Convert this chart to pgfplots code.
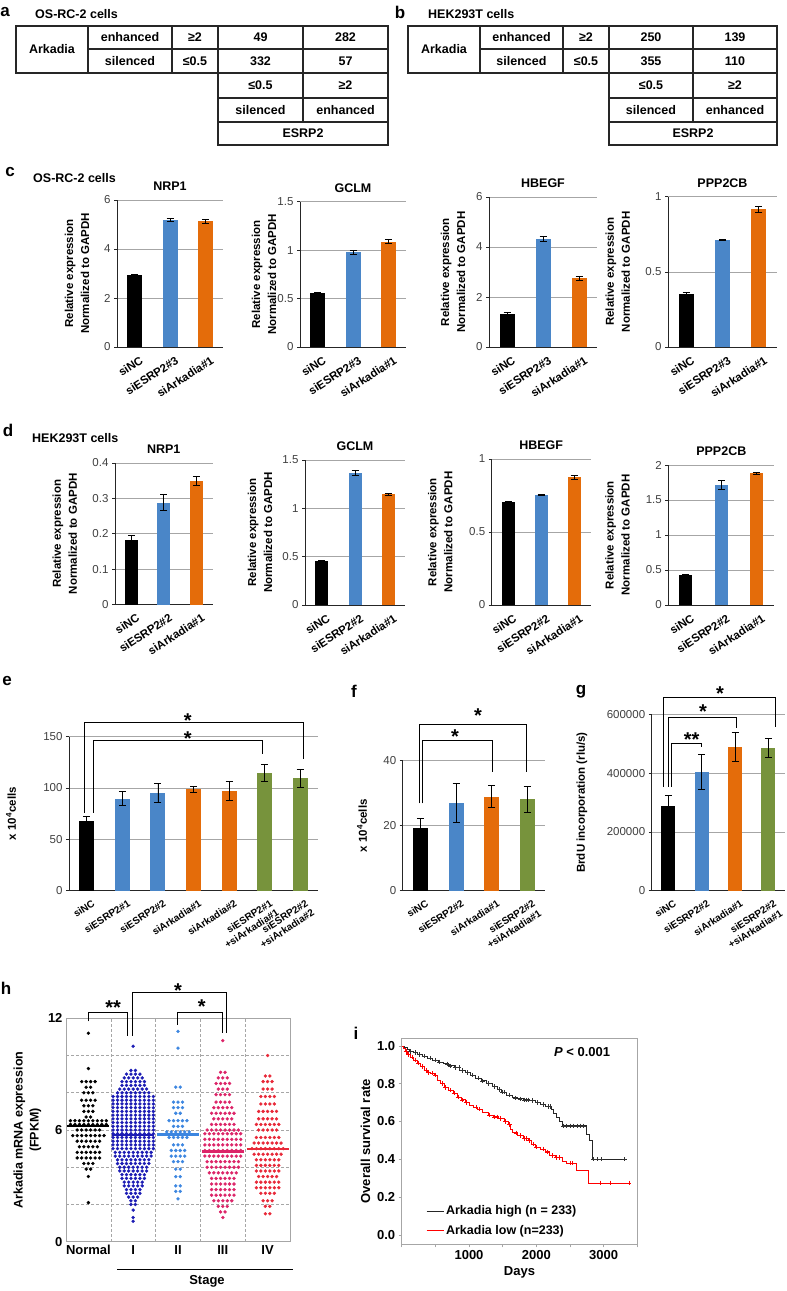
\documentclass[border=0pt]{standalone}
\usepackage{fontspec}
\setmainfont{Liberation Sans}
\usepackage{pgfplots}
\pgfplotsset{compat=1.18}
\definecolor{cblue}{HTML}{4A86C8}
\definecolor{corange}{HTML}{E46C0A}
\definecolor{cgreen}{HTML}{77933C}
\definecolor{gridc}{HTML}{A6A6A6}
\definecolor{tickc}{HTML}{404040}
\definecolor{sI}{HTML}{1C1CB4}
\definecolor{sII}{HTML}{3C86E0}
\definecolor{sIII}{HTML}{DC2468}
\definecolor{sIV}{HTML}{E82838}
\newcommand{\tf}{\bfseries\fontsize{12.5}{14}\selectfont}
\newcommand{\lf}{\bfseries\fontsize{17}{18}\selectfont}
\tikzset{star/.style={font=\bfseries\fontsize{20}{20}\selectfont, inner sep=0pt, yshift=-4pt}}
\pgfplotsset{
 barax/.style={
  scale only axis, clip=false, anchor=south west,
  axis x line*=bottom, axis y line*=left,
  axis line style={black!85, line width=0.8pt},
  ymin=0, ymajorgrids, grid style={gridc, line width=0.7pt},
  tick align=outside, major tick length=3pt,
  ytick style={black!85, line width=0.7pt},
  xtick style={draw=none},
  /pgf/number format/assume math mode=true,
  yticklabel style={font=\fontsize{11.5}{13}\selectfont, text=tickc},
  xticklabel style={xshift=5pt, yshift=-4pt, rotate=33, anchor=north east, font=\bfseries\fontsize{11.5}{12.5}\selectfont, inner sep=1pt, align=right},
  title style={font=\bfseries\fontsize{12.5}{14}\selectfont, at={(0.5,1)}, anchor=south, yshift=0pt},
  ylabel style={font=\bfseries\fontsize{11.5}{16}\selectfont, align=center, anchor=center},
  xmin=-0.5,
 },
 smalllab/.style={xticklabel style={font=\bfseries\fontsize{10}{11.5}\selectfont}},
 bb/.style={ybar, bar shift=0pt, draw=none, fill=#1,
   error bars/y dir=both, error bars/y explicit,
   error bars/error mark=-,
   error bars/error bar style={black, line width=0.8pt},
   error bars/error mark options={rotate=90, black, line width=0.8pt, mark size=3.5pt}},
}
\begin{document}
\begin{tikzpicture}
\path[use as bounding box] (0pt,0pt) rectangle (787pt,-1291pt);
\begin{scope}[x=1pt,y=-1pt]
% ---------- panel a
\node[font=\lf] at (5,12) {a};
\node[font=\tf, anchor=west, inner sep=0pt] at (35,14) {OS-RC-2 cells};
\draw[line width=1.1pt, black!85] (16,26) rectangle (388,73);
\foreach \xx in {88,172,218,303} \draw[line width=1.1pt, black!85] (\xx,26) -- (\xx,73);
\draw[line width=1.1pt, black!85] (88,49) -- (388,49);
\draw[line width=1.1pt, black!85] (218,73) rectangle (388,145);
\draw[line width=1.1pt, black!85] (218,98) -- (388,98) (218,122) -- (388,122) (303,73) -- (303,122);
\node[font=\tf] at (52,49) {Arkadia};
\node[font=\tf] at (130,37.5) {enhanced};
\node[font=\tf] at (130,61) {silenced};
\node[font=\tf] at (195,37.5) {≥2};
\node[font=\tf] at (195,61) {≤0.5};
\node[font=\tf] at (260.5,37.5) {49};
\node[font=\tf] at (345.5,37.5) {282};
\node[font=\tf] at (260.5,61) {332};
\node[font=\tf] at (345.5,61) {57};
\node[font=\tf] at (260.5,85.5) {≤0.5};
\node[font=\tf] at (345.5,85.5) {≥2};
\node[font=\tf] at (260.5,110) {silenced};
\node[font=\tf] at (345.5,110) {enhanced};
\node[font=\tf] at (303,133.5) {ESRP2};
% ---------- panel b
\node[font=\lf] at (400,12) {b};
\node[font=\tf, anchor=west, inner sep=0pt] at (428,14) {HEK293T cells};
\draw[line width=1.1pt, black!85] (408,26) rectangle (777,73);
\foreach \xx in {480,563,609,693} \draw[line width=1.1pt, black!85] (\xx,26) -- (\xx,73);
\draw[line width=1.1pt, black!85] (480,49) -- (777,49);
\draw[line width=1.1pt, black!85] (609,73) rectangle (777,145);
\draw[line width=1.1pt, black!85] (609,98) -- (777,98) (609,122) -- (777,122) (693,73) -- (693,122);
\node[font=\tf] at (444,49) {Arkadia};
\node[font=\tf] at (521.5,37.5) {enhanced};
\node[font=\tf] at (521.5,61) {silenced};
\node[font=\tf] at (586,37.5) {≥2};
\node[font=\tf] at (586,61) {≤0.5};
\node[font=\tf] at (651,37.5) {250};
\node[font=\tf] at (735,37.5) {139};
\node[font=\tf] at (651,61) {355};
\node[font=\tf] at (735,61) {110};
\node[font=\tf] at (651,85.5) {≤0.5};
\node[font=\tf] at (735,85.5) {≥2};
\node[font=\tf] at (651,110) {silenced};
\node[font=\tf] at (735,110) {enhanced};
\node[font=\tf] at (693,133.5) {ESRP2};
% ---------- other letters
\node[font=\lf] at (10,172) {c};
\node[font=\tf, anchor=west, inner sep=0pt] at (33,178) {OS-RC-2 cells};
\node[font=\lf] at (8,430) {d};
\node[font=\tf, anchor=west, inner sep=0pt] at (32,438) {HEK293T cells};
\node[font=\lf] at (7,681) {e};
\node[font=\lf] at (354,691) {f};
\node[font=\lf] at (581,692) {g};
\node[font=\lf] at (6,988) {h};
\node[font=\lf] at (356,1033) {i};
\draw[line width=0.8pt] (117,1269.3) -- (293,1269.3);
\node[font=\bfseries\fontsize{13}{15}\selectfont] at (207,1281.7) {Stage};
\end{scope}

% ---------- panel c
\begin{axis}[barax, at={(117pt,-347pt)}, width=106pt, height=147pt, bar width=15pt, xmax=2.5, ymax=6, ytick={0,2,4,6}, xtick={0,1,2}, xticklabels={siNC,siESRP2\#3,siArkadia\#1}, title={NRP1}, ylabel={Relative expression\\Normalized to GAPDH}, ylabel style={at={(axis description cs:-0.377,0.5)}}]
\addplot[bb=black] coordinates {(0,2.93) +- (0,0.04)};
\addplot[bb=cblue] coordinates {(1,5.18) +- (0,0.06)};
\addplot[bb=corange] coordinates {(2,5.13) +- (0,0.09)};
\end{axis}
\begin{axis}[barax, at={(300pt,-347pt)}, width=106pt, height=145.3pt, bar width=15pt, xmax=2.5, ymax=1.5, ytick={0,0.5,1,1.5}, xtick={0,1,2}, xticklabels={siNC,siESRP2\#3,siArkadia\#1}, title={GCLM}, ylabel={Relative expression\\Normalized to GAPDH}, ylabel style={at={(axis description cs:-0.34,0.5)}}]
\addplot[bb=black] coordinates {(0,0.554) +- (0,0.008)};
\addplot[bb=cblue] coordinates {(1,0.98) +- (0,0.02)};
\addplot[bb=corange] coordinates {(2,1.087) +- (0,0.02)};
\end{axis}
\begin{axis}[barax, at={(489pt,-347pt)}, width=108pt, height=150pt, bar width=15pt, xmax=2.5, ymax=6, ytick={0,2,4,6}, xtick={0,1,2}, xticklabels={siNC,siESRP2\#3,siArkadia\#1}, title={HBEGF}, ylabel={Relative expression\\Normalized to GAPDH}, ylabel style={at={(axis description cs:-0.333,0.5)}}]
\addplot[bb=black] coordinates {(0,1.32) +- (0,0.08)};
\addplot[bb=cblue] coordinates {(1,4.32) +- (0,0.1)};
\addplot[bb=corange] coordinates {(2,2.75) +- (0,0.07)};
\end{axis}
\begin{axis}[barax, at={(668pt,-347pt)}, width=109pt, height=150.3pt, bar width=15pt, xmax=2.5, ymax=1, ytick={0,0.5,1}, xtick={0,1,2}, xticklabels={siNC,siESRP2\#3,siArkadia\#1}, title={PPP2CB}, ylabel={Relative expression\\Normalized to GAPDH}, ylabel style={at={(axis description cs:-0.46,0.5)}}]
\addplot[bb=black] coordinates {(0,0.353) +- (0,0.01)};
\addplot[bb=cblue] coordinates {(1,0.712) +- (0,0.003)};
\addplot[bb=corange] coordinates {(2,0.916) +- (0,0.02)};
\end{axis}

% ---------- panel d
\begin{axis}[barax, at={(115pt,-604.5pt)}, width=97.5pt, height=141.5pt, bar width=13pt, xmax=2.5, ymax=0.4, ytick={0,0.1,0.2,0.3,0.4}, xtick={0,1,2}, xticklabels={siNC,siESRP2\#2,siArkadia\#1}, title={NRP1}, ylabel={Relative expression\\Normalized to GAPDH}, ylabel style={at={(axis description cs:-0.515,0.5)}}]
\addplot[bb=black] coordinates {(0,0.183) +- (0,0.012)};
\addplot[bb=cblue] coordinates {(1,0.288) +- (0,0.022)};
\addplot[bb=corange] coordinates {(2,0.35) +- (0,0.012)};
\end{axis}
\begin{axis}[barax, at={(305pt,-605pt)}, width=100pt, height=145pt, bar width=13pt, xmax=2.5, ymax=1.5, ytick={0,0.5,1,1.5}, xtick={0,1,2}, xticklabels={siNC,siESRP2\#2,siArkadia\#1}, title={GCLM}, ylabel={Relative expression\\Normalized to GAPDH}, ylabel style={at={(axis description cs:-0.45,0.5)}}]
\addplot[bb=black] coordinates {(0,0.455) +- (0,0.005)};
\addplot[bb=cblue] coordinates {(1,1.368) +- (0,0.025)};
\addplot[bb=corange] coordinates {(2,1.145) +- (0,0.01)};
\end{axis}
\begin{axis}[barax, at={(491.7pt,-605pt)}, width=99pt, height=146pt, bar width=13pt, xmax=2.5, ymax=1, ytick={0,0.5,1}, xtick={0,1,2}, xticklabels={siNC,siESRP2\#2,siArkadia\#1}, title={HBEGF}, ylabel={Relative expression\\Normalized to GAPDH}, ylabel style={at={(axis description cs:-0.52,0.5)}}]
\addplot[bb=black] coordinates {(0,0.707) +- (0,0.003)};
\addplot[bb=cblue] coordinates {(1,0.755) +- (0,0.003)};
\addplot[bb=corange] coordinates {(2,0.875) +- (0,0.012)};
\end{axis}
\begin{axis}[barax, at={(668.3pt,-605pt)}, width=106pt, height=140pt, bar width=13pt, xmax=2.5, ymax=2, ytick={0,0.5,1,1.5,2}, xtick={0,1,2}, xticklabels={siNC,siESRP2\#2,siArkadia\#1}, title={PPP2CB}, ylabel={Relative expression\\Normalized to GAPDH}, ylabel style={at={(axis description cs:-0.48,0.5)}}]
\addplot[bb=black] coordinates {(0,0.43) +- (0,0.01)};
\addplot[bb=cblue] coordinates {(1,1.714) +- (0,0.06)};
\addplot[bb=corange] coordinates {(2,1.88) +- (0,0.015)};
\end{axis}

% ---------- panel e
\begin{axis}[barax, smalllab, at={(69pt,-890.5pt)}, width=249pt, height=153.8pt, bar width=15pt, xmax=6.5, ymax=150, ytick={0,50,100,150}, xtick={0,1,2,3,4,5,6}, xticklabels={siNC,siESRP2\#1,siESRP2\#2,siArkadia\#1,siArkadia\#2,{siESRP2\#1\\+siArkadia\#1},{siESRP2\#2\\+siArkadia\#2}}, ylabel={x 10\textsuperscript{4}cells}, ylabel style={at={(axis description cs:-0.233,0.5)}}]
\addplot[bb=black] coordinates {(0,67.5) +- (0,5)};
\addplot[bb=cblue] coordinates {(1,89.7) +- (0,6.5)};
\addplot[bb=cblue] coordinates {(2,95) +- (0,9.5)};
\addplot[bb=corange] coordinates {(3,98.8) +- (0,3)};
\addplot[bb=corange] coordinates {(4,97.2) +- (0,9)};
\addplot[bb=cgreen] coordinates {(5,114.9) +- (0,8)};
\addplot[bb=cgreen] coordinates {(6,109.5) +- (0,8.7)};
\draw[line width=0.8pt] (axis cs:-0.08,76) -- (axis cs:-0.08,164.2) -- (axis cs:6.1,164.2) -- (axis cs:6.1,127.9);
\draw[line width=0.8pt] (axis cs:0.2,76) -- (axis cs:0.2,146.2) -- (axis cs:4.94,146.2) -- (axis cs:4.94,133.3);
\node[star] at (axis cs:2.84,169.7) {*};
\node[star] at (axis cs:2.84,152.3) {*};
\end{axis}

% ---------- panel f
\begin{axis}[barax, smalllab, at={(402.7pt,-890.7pt)}, width=142.3pt, height=130pt, bar width=15pt, xmax=3.5, ymax=40, ytick={0,20,40}, xtick={0,1,2,3}, xticklabels={siNC,siESRP2\#2,siArkadia\#1,{siESRP2\#2\\+siArkadia\#1}}, ylabel={x 10\textsuperscript{4}cells}, ylabel style={at={(axis description cs:-0.286,0.5)}}]
\addplot[bb=black] coordinates {(0,19.2) +- (0,3)};
\addplot[bb=cblue] coordinates {(1,26.9) +- (0,6)};
\addplot[bb=corange] coordinates {(2,28.9) +- (0,3.4)};
\addplot[bb=cgreen] coordinates {(3,28.2) +- (0,4)};
\draw[line width=0.8pt] (axis cs:-0.03,26.9) -- (axis cs:-0.03,51.3) -- (axis cs:2.99,51.3) -- (axis cs:2.99,36.6);
\draw[line width=0.8pt] (axis cs:0.05,26.9) -- (axis cs:0.05,46.4) -- (axis cs:2.03,46.4) -- (axis cs:2.03,36.6);
\node[star] at (axis cs:1.62,55.1) {*};
\node[star] at (axis cs:0.97,48.6) {*};
\end{axis}

% ---------- panel g
\begin{axis}[barax, smalllab, at={(651.7pt,-890.7pt)}, width=133.3pt, height=176.4pt, bar width=14pt, xmax=3.5, ymax=600000, ytick={0,200000,400000,600000}, scaled y ticks=false, yticklabel style={/pgf/number format/fixed, /pgf/number format/1000 sep={}}, xtick={0,1,2,3}, xticklabels={siNC,siESRP2\#2,siArkadia\#1,{siESRP2\#2\\+siArkadia\#1}}, ylabel={BrdU incorporation (rlu/s)}, ylabel style={at={(axis description cs:-0.523,0.5)}}]
\addplot[bb=black] coordinates {(0,289000) +- (0,35000)};
\addplot[bb=cblue] coordinates {(1,405000) +- (0,59000)};
\addplot[bb=corange] coordinates {(2,490000) +- (0,49000)};
\addplot[bb=cgreen] coordinates {(3,486000) +- (0,32000)};
\draw[line width=0.8pt] (axis cs:-0.15,353700) -- (axis cs:-0.15,656500) -- (axis cs:3.2,656500) -- (axis cs:3.2,557800);
\draw[line width=0.8pt] (axis cs:0,353700) -- (axis cs:0,589800) -- (axis cs:2.05,589800) -- (axis cs:2.05,552400);
\draw[line width=0.8pt] (axis cs:0.1,353700) -- (axis cs:0.1,501400) -- (axis cs:1,501400) -- (axis cs:1,489800);
\node[star] at (axis cs:1.55,682700) {*};
\node[star] at (axis cs:1.04,621400) {*};
\node[star] at (axis cs:0.7,527200) {**};
\end{axis}

% ---------- panel h
\begin{axis}[scale only axis, clip=false, anchor=south west, at={(66pt,-1241.7pt)}, width=224pt, height=223.4pt, xmin=-0.5, xmax=4.5, ymin=0, ymax=12, axis line style={gridc, line width=0.8pt}, ytick={0,2,4,6,8,10,12}, yticklabels={0,,,6,,,12}, xtick={0,1,2,3,4}, xticklabels={Normal,I,II,III,IV}, minor xtick={0.5,1.5,2.5,3.5}, xminorgrids, ymajorgrids, grid style={gridc, dash pattern=on 3pt off 2pt, line width=0.6pt}, minor grid style={gridc, dash pattern=on 3pt off 2pt, line width=0.6pt}, major tick length=0pt, minor tick length=0pt, tick label style={font=\bfseries\fontsize{13}{15}\selectfont}, ylabel={Arkadia mRNA expression\\(FPKM)}, ylabel style={font=\bfseries\fontsize{12.5}{16}\selectfont, align=center}]
\addplot[only marks, mark=*, mark size=1.5pt, black] coordinates {
(0,11.2)(0,9.3)
(-.15,8.6)(-.05,8.6)(.05,8.6)(.15,8.6)
(-.05,8.3)(.05,8.3)
(-.1,8)(0,8)(.1,8)
(-.15,7.6)(-.05,7.6)(.05,7.6)(.15,7.6)
(-.1,7.3)(0,7.3)(.1,7.3)
(-.1,7)(0,7)(.1,7)
(-.05,6.7)(.05,6.7)
(-.4,6.5)(-.3,6.5)(-.2,6.5)(-.1,6.5)(0,6.5)(.1,6.5)(.2,6.5)(.3,6.5)(.4,6.5)
(-.4,6.3)(-.3,6.3)(-.2,6.3)(-.1,6.3)(0,6.3)(.1,6.3)(.2,6.3)(.3,6.3)(.4,6.3)
(-.25,6)(-.15,6)(-.05,6)(.05,6)(.15,6)(.25,6)
(-.35,5.7)(-.25,5.7)(-.15,5.7)(-.05,5.7)(.05,5.7)(.15,5.7)(.25,5.7)(.35,5.7)
(-.25,5.4)(-.15,5.4)(-.05,5.4)(.05,5.4)(.15,5.4)(.25,5.4)
(-.2,5.1)(-.1,5.1)(0,5.1)(.1,5.1)(.2,5.1)
(-.25,4.8)(-.15,4.8)(-.05,4.8)(.05,4.8)(.15,4.8)(.25,4.8)
(-.25,4.5)(-.15,4.5)(-.05,4.5)(.05,4.5)(.15,4.5)(.25,4.5)
(-.1,4.2)(0,4.2)(.1,4.2)
(-.05,3.9)(.05,3.9)
(0,3.5)(0,2.1)};
\addplot[only marks, mark=*, mark size=1.5pt, sI] coordinates {
(1,10.5)
(.95,9.2)(1.05,9.2)
(.85,9)(.95,9)(1.05,9)(1.15,9)
(.8,8.8)(.9,8.8)(1,8.8)(1.1,8.8)(1.2,8.8)
(.75,8.6)(.85,8.6)(.95,8.6)(1.05,8.6)(1.15,8.6)(1.25,8.6)
(.75,8.4)(.85,8.4)(.95,8.4)(1.05,8.4)(1.15,8.4)(1.25,8.4)
(.7,8.2)(.8,8.2)(.9,8.2)(1,8.2)(1.1,8.2)(1.2,8.2)(1.3,8.2)
(.65,8)(.75,8)(.85,8)(.95,8)(1.05,8)(1.15,8)(1.25,8)(1.35,8)
(.55,7.8)(.65,7.8)(.75,7.8)(.85,7.8)(.95,7.8)(1.05,7.8)(1.15,7.8)(1.25,7.8)(1.35,7.8)(1.45,7.8)
(.55,7.6)(.65,7.6)(.75,7.6)(.85,7.6)(.95,7.6)(1.05,7.6)(1.15,7.6)(1.25,7.6)(1.35,7.6)(1.45,7.6)
(.55,7.4)(.65,7.4)(.75,7.4)(.85,7.4)(.95,7.4)(1.05,7.4)(1.15,7.4)(1.25,7.4)(1.35,7.4)(1.45,7.4)
(.55,7.2)(.65,7.2)(.75,7.2)(.85,7.2)(.95,7.2)(1.05,7.2)(1.15,7.2)(1.25,7.2)(1.35,7.2)(1.45,7.2)
(.55,7)(.65,7)(.75,7)(.85,7)(.95,7)(1.05,7)(1.15,7)(1.25,7)(1.35,7)(1.45,7)
(.55,6.8)(.65,6.8)(.75,6.8)(.85,6.8)(.95,6.8)(1.05,6.8)(1.15,6.8)(1.25,6.8)(1.35,6.8)(1.45,6.8)
(.55,6.6)(.65,6.6)(.75,6.6)(.85,6.6)(.95,6.6)(1.05,6.6)(1.15,6.6)(1.25,6.6)(1.35,6.6)(1.45,6.6)
(.55,6.4)(.65,6.4)(.75,6.4)(.85,6.4)(.95,6.4)(1.05,6.4)(1.15,6.4)(1.25,6.4)(1.35,6.4)(1.45,6.4)
(.55,6.2)(.65,6.2)(.75,6.2)(.85,6.2)(.95,6.2)(1.05,6.2)(1.15,6.2)(1.25,6.2)(1.35,6.2)(1.45,6.2)
(.55,6)(.65,6)(.75,6)(.85,6)(.95,6)(1.05,6)(1.15,6)(1.25,6)(1.35,6)(1.45,6)
(.55,5.8)(.65,5.8)(.75,5.8)(.85,5.8)(.95,5.8)(1.05,5.8)(1.15,5.8)(1.25,5.8)(1.35,5.8)(1.45,5.8)
(.55,5.6)(.65,5.6)(.75,5.6)(.85,5.6)(.95,5.6)(1.05,5.6)(1.15,5.6)(1.25,5.6)(1.35,5.6)(1.45,5.6)
(.55,5.4)(.65,5.4)(.75,5.4)(.85,5.4)(.95,5.4)(1.05,5.4)(1.15,5.4)(1.25,5.4)(1.35,5.4)(1.45,5.4)
(.55,5.2)(.65,5.2)(.75,5.2)(.85,5.2)(.95,5.2)(1.05,5.2)(1.15,5.2)(1.25,5.2)(1.35,5.2)(1.45,5.2)
(.55,5)(.65,5)(.75,5)(.85,5)(.95,5)(1.05,5)(1.15,5)(1.25,5)(1.35,5)(1.45,5)
(.6,4.8)(.7,4.8)(.8,4.8)(.9,4.8)(1,4.8)(1.1,4.8)(1.2,4.8)(1.3,4.8)(1.4,4.8)
(.6,4.6)(.7,4.6)(.8,4.6)(.9,4.6)(1,4.6)(1.1,4.6)(1.2,4.6)(1.3,4.6)(1.4,4.6)
(.65,4.4)(.75,4.4)(.85,4.4)(.95,4.4)(1.05,4.4)(1.15,4.4)(1.25,4.4)(1.35,4.4)
(.65,4.2)(.75,4.2)(.85,4.2)(.95,4.2)(1.05,4.2)(1.15,4.2)(1.25,4.2)(1.35,4.2)
(.7,4)(.8,4)(.9,4)(1,4)(1.1,4)(1.2,4)(1.3,4)
(.7,3.8)(.8,3.8)(.9,3.8)(1,3.8)(1.1,3.8)(1.2,3.8)(1.3,3.8)
(.75,3.6)(.85,3.6)(.95,3.6)(1.05,3.6)(1.15,3.6)(1.25,3.6)
(.75,3.4)(.85,3.4)(.95,3.4)(1.05,3.4)(1.15,3.4)(1.25,3.4)
(.8,3.2)(.9,3.2)(1,3.2)(1.1,3.2)(1.2,3.2)
(.8,3)(.9,3)(1,3)(1.1,3)(1.2,3)
(.85,2.8)(.95,2.8)(1.05,2.8)(1.15,2.8)
(.85,2.6)(.95,2.6)(1.05,2.6)(1.15,2.6)
(.9,2.4)(1,2.4)(1.1,2.4)
(.95,2.2)(1.05,2.2)
(.95,2)(1.05,2)
(1,1.7)(1,1.3)(1,1.1)};
\addplot[only marks, mark=*, mark size=1.5pt, sII] coordinates {
(2,11.3)(2,10.4)
(1.95,8.3)(2.05,8.3)
(1.9,7.5)(2,7.5)(2.1,7.5)
(1.9,7.2)(2,7.2)(2.1,7.2)
(1.95,6.9)(2.05,6.9)
(1.8,6.5)(1.9,6.5)(2,6.5)(2.1,6.5)(2.2,6.5)
(1.9,6.2)(2,6.2)(2.1,6.2)
(1.75,5.9)(1.85,5.9)(1.95,5.9)(2.05,5.9)(2.15,5.9)(2.25,5.9)
(1.8,5.6)(1.9,5.6)(2,5.6)(2.1,5.6)(2.2,5.6)
(1.9,5.2)(2,5.2)(2.1,5.2)
(1.85,4.9)(1.95,4.9)(2.05,4.9)(2.15,4.9)
(1.85,4.6)(1.95,4.6)(2.05,4.6)(2.15,4.6)
(1.9,4.3)(2,4.3)(2.1,4.3)
(1.95,3.9)(2.05,3.9)
(1.95,3.5)(2.05,3.5)
(1.95,3)(2.05,3)
(1.95,2.7)(2.05,2.7)
(2,2.3)};
\addplot[only marks, mark=*, mark size=1.5pt, sIII] coordinates {
(3,10.8)
(2.95,9.1)(3.05,9.1)
(2.9,8.8)(3,8.8)(3.1,8.8)
(2.85,8.5)(2.95,8.5)(3.05,8.5)(3.15,8.5)
(2.9,8.2)(3,8.2)(3.1,8.2)
(2.85,7.9)(2.95,7.9)(3.05,7.9)(3.15,7.9)
(2.85,7.5)(2.95,7.5)(3.05,7.5)(3.15,7.5)
(2.8,7.2)(2.9,7.2)(3,7.2)(3.1,7.2)(3.2,7.2)
(2.75,6.9)(2.85,6.9)(2.95,6.9)(3.05,6.9)(3.15,6.9)(3.25,6.9)
(2.8,6.6)(2.9,6.6)(3,6.6)(3.1,6.6)(3.2,6.6)
(2.75,6.3)(2.85,6.3)(2.95,6.3)(3.05,6.3)(3.15,6.3)(3.25,6.3)
(2.65,6)(2.75,6)(2.85,6)(2.95,6)(3.05,6)(3.15,6)(3.25,6)(3.35,6)
(2.6,5.8)(2.7,5.8)(2.8,5.8)(2.9,5.8)(3,5.8)(3.1,5.8)(3.2,5.8)(3.3,5.8)(3.4,5.8)
(2.6,5.5)(2.7,5.5)(2.8,5.5)(2.9,5.5)(3,5.5)(3.1,5.5)(3.2,5.5)(3.3,5.5)(3.4,5.5)
(2.6,5.2)(2.7,5.2)(2.8,5.2)(2.9,5.2)(3,5.2)(3.1,5.2)(3.2,5.2)(3.3,5.2)(3.4,5.2)
(2.6,4.9)(2.7,4.9)(2.8,4.9)(2.9,4.9)(3,4.9)(3.1,4.9)(3.2,4.9)(3.3,4.9)(3.4,4.9)
(2.6,4.6)(2.7,4.6)(2.8,4.6)(2.9,4.6)(3,4.6)(3.1,4.6)(3.2,4.6)(3.3,4.6)(3.4,4.6)
(2.65,4.3)(2.75,4.3)(2.85,4.3)(2.95,4.3)(3.05,4.3)(3.15,4.3)(3.25,4.3)(3.35,4.3)
(2.65,4)(2.75,4)(2.85,4)(2.95,4)(3.05,4)(3.15,4)(3.25,4)(3.35,4)
(2.7,3.7)(2.8,3.7)(2.9,3.7)(3,3.7)(3.1,3.7)(3.2,3.7)(3.3,3.7)
(2.75,3.4)(2.85,3.4)(2.95,3.4)(3.05,3.4)(3.15,3.4)(3.25,3.4)
(2.75,3.1)(2.85,3.1)(2.95,3.1)(3.05,3.1)(3.15,3.1)(3.25,3.1)
(2.75,2.8)(2.85,2.8)(2.95,2.8)(3.05,2.8)(3.15,2.8)(3.25,2.8)
(2.75,2.5)(2.85,2.5)(2.95,2.5)(3.05,2.5)(3.15,2.5)(3.25,2.5)
(2.8,2.2)(2.9,2.2)(3,2.2)(3.1,2.2)(3.2,2.2)
(2.9,1.9)(3,1.9)(3.1,1.9)
(2.95,1.6)(3.05,1.6)
(3,1.3)};
\addplot[only marks, mark=*, mark size=1.5pt, sIV] coordinates {
(4,10)
(3.95,8.9)(4.05,8.9)
(3.9,8.6)(4,8.6)(4.1,8.6)
(3.9,8.2)(4,8.2)(4.1,8.2)
(3.85,7.8)(3.95,7.8)(4.05,7.8)(4.15,7.8)
(3.85,7.4)(3.95,7.4)(4.05,7.4)(4.15,7.4)
(3.8,7)(3.9,7)(4,7)(4.1,7)(4.2,7)
(3.8,6.6)(3.9,6.6)(4,6.6)(4.1,6.6)(4.2,6.6)
(3.75,6.3)(3.85,6.3)(3.95,6.3)(4.05,6.3)(4.15,6.3)(4.25,6.3)
(3.8,6)(3.9,6)(4,6)(4.1,6)(4.2,6)
(3.75,5.6)(3.85,5.6)(3.95,5.6)(4.05,5.6)(4.15,5.6)(4.25,5.6)
(3.7,5.3)(3.8,5.3)(3.9,5.3)(4,5.3)(4.1,5.3)(4.2,5.3)(4.3,5.3)
(3.65,5)(3.75,5)(3.85,5)(3.95,5)(4.05,5)(4.15,5)(4.25,5)(4.35,5)
(3.7,4.7)(3.8,4.7)(3.9,4.7)(4,4.7)(4.1,4.7)(4.2,4.7)(4.3,4.7)
(3.75,4.4)(3.85,4.4)(3.95,4.4)(4.05,4.4)(4.15,4.4)(4.25,4.4)
(3.75,4.1)(3.85,4.1)(3.95,4.1)(4.05,4.1)(4.15,4.1)(4.25,4.1)
(3.75,3.8)(3.85,3.8)(3.95,3.8)(4.05,3.8)(4.15,3.8)(4.25,3.8)
(3.8,3.5)(3.9,3.5)(4,3.5)(4.1,3.5)(4.2,3.5)
(3.75,3.2)(3.85,3.2)(3.95,3.2)(4.05,3.2)(4.15,3.2)(4.25,3.2)
(3.75,2.9)(3.85,2.9)(3.95,2.9)(4.05,2.9)(4.15,2.9)(4.25,2.9)
(3.85,2.6)(3.95,2.6)(4.05,2.6)(4.15,2.6)
(3.9,2.2)(4,2.2)(4.1,2.2)
(3.95,1.9)(4.05,1.9)
(3.95,1.5)(4.05,1.5)};
\addplot[black, line width=2.6pt] coordinates {(-0.47,6.22)(0.47,6.22)};
\addplot[sI, line width=2.6pt] coordinates {(0.52,5.74)(1.47,5.74)};
\addplot[sII, line width=2.6pt] coordinates {(1.53,5.75)(2.47,5.75)};
\addplot[sIII, line width=2.6pt] coordinates {(2.53,4.84)(3.47,4.84)};
\addplot[sIV, line width=2.6pt] coordinates {(3.53,4.98)(4.47,4.98)};
\draw[line width=0.8pt] (axis cs:0,11.83) -- (axis cs:0,12.31) -- (axis cs:0.87,12.31) -- (axis cs:0.87,11.06);
\draw[line width=0.8pt] (axis cs:0.98,11.06) -- (axis cs:0.98,13.39) -- (axis cs:3.07,13.39) -- (axis cs:3.07,11.2);
\draw[line width=0.8pt] (axis cs:1.99,11.65) -- (axis cs:1.99,12.31) -- (axis cs:3.0,12.31) -- (axis cs:3.0,11.2);
\node[star] at (axis cs:0.55,12.78) {**};
\node[star] at (axis cs:2.0,13.7) {*};
\node[star] at (axis cs:2.53,12.83) {*};
\end{axis}

% ---------- panel i
\begin{axis}[scale only axis, clip=false, anchor=south west, at={(401.7pt,-1244.3pt)}, width=235.6pt, height=206pt, xmin=0, xmax=3500, ymin=-0.05, ymax=1.04, axis line style={gridc, line width=0.8pt}, xtick={0,500,1000,1500,2000,2500,3000,3500}, xticklabels={,,1000,,2000,,3000,}, scaled x ticks=false, ytick={0,0.2,0.4,0.6,0.8,1}, yticklabel style={/pgf/number format/fixed, /pgf/number format/fixed zerofill, /pgf/number format/precision=1}, /pgf/number format/assume math mode=true, tick align=outside, major tick length=3pt, tick style={gridc, line width=0.7pt}, xtick pos=bottom, ytick pos=left, tick label style={font=\bfseries\fontsize{13}{15}\selectfont}, xlabel={Days}, ylabel={Overall survival rate}, label style={font=\bfseries\fontsize{13}{15}\selectfont}, legend style={at={(axis description cs:0.09,0.02)}, anchor=south west, draw=none, fill=none, font=\bfseries\fontsize{12.5}{15}\selectfont, row sep=5pt}, legend cell align=left, legend image post style={line width=0.9pt}]
\addplot[const plot, black!85, line width=0.7pt] coordinates {
(0,1)(40,0.99)(80,0.98)(120,0.97)(170,0.965)(230,0.955)(300,0.945)(380,0.935)(460,0.925)(540,0.915)(620,0.905)(700,0.895)(780,0.885)(860,0.87)(940,0.86)(1020,0.845)(1100,0.83)(1180,0.815)(1260,0.8)(1340,0.785)(1420,0.77)(1480,0.755)(1560,0.74)(1640,0.725)(1720,0.72)(1800,0.715)(1900,0.71)(1980,0.7)(2060,0.69)(2140,0.68)(2220,0.665)(2260,0.645)(2300,0.62)(2340,0.6)(2380,0.577)(2750,0.53)(2790,0.5)(2830,0.4)(3340,0.4)};
\addplot[const plot, red, line width=0.7pt] coordinates {
(0,1)(20,0.985)(50,0.97)(90,0.955)(130,0.94)(180,0.925)(230,0.91)(280,0.89)(330,0.87)(380,0.86)(430,0.855)(480,0.845)(530,0.82)(580,0.8)(630,0.78)(700,0.765)(760,0.75)(820,0.73)(880,0.715)(940,0.7)(1000,0.685)(1060,0.675)(1120,0.665)(1200,0.65)(1280,0.635)(1360,0.625)(1440,0.615)(1520,0.6)(1580,0.585)(1610,0.56)(1640,0.54)(1720,0.525)(1800,0.51)(1880,0.5)(1920,0.48)(1980,0.465)(2060,0.455)(2140,0.44)(2200,0.42)(2280,0.41)(2380,0.39)(2440,0.38)(2600,0.34)(2770,0.275)(3400,0.275)};
\addplot[only marks, mark=+, mark size=2.2pt, black!80, forget plot] coordinates {
(130,0.97)(200,0.965)(260,0.955)(330,0.945)(420,0.935)(500,0.925)(560,0.915)(680,0.905)(720,0.895)(800,0.885)(850,0.885)(900,0.87)(980,0.86)(1050,0.845)(1130,0.83)(1200,0.815)(1290,0.8)(1380,0.785)(1450,0.77)(1500,0.755)(1530,0.755)(1600,0.74)(1680,0.725)(1760,0.72)(1820,0.715)(1850,0.715)(1880,0.715)(1940,0.71)(2020,0.7)(2100,0.69)(2180,0.68)(2200,0.68)(2400,0.577)(2450,0.577)(2500,0.577)(2550,0.577)(2600,0.577)(2650,0.577)(2700,0.577)(2850,0.4)(2900,0.4)(2960,0.4)(3300,0.4)};
\addplot[only marks, mark=+, mark size=2.2pt, red, forget plot] coordinates {
(60,0.97)(100,0.955)(150,0.94)(200,0.925)(250,0.91)(300,0.89)(360,0.87)(400,0.86)(450,0.855)(500,0.845)(600,0.8)(650,0.78)(720,0.765)(780,0.75)(840,0.73)(900,0.715)(960,0.7)(1100,0.675)(1150,0.665)(1300,0.635)(1380,0.625)(1420,0.625)(1460,0.615)(1540,0.6)(1600,0.585)(1700,0.54)(1760,0.525)(1820,0.51)(1850,0.51)(1900,0.5)(1950,0.48)(2000,0.465)(2100,0.455)(2160,0.44)(2240,0.42)(2300,0.41)(2340,0.41)(2500,0.38)(2540,0.38)(2950,0.275)(3100,0.275)(3380,0.275)};
\legend{Arkadia high (n = 233),Arkadia low (n=233)}
\node[font=\bfseries\fontsize{13}{15}\selectfont] at (axis cs:2680,0.968) {\textit{P} < 0.001};
\end{axis}
\end{tikzpicture}
\end{document}
